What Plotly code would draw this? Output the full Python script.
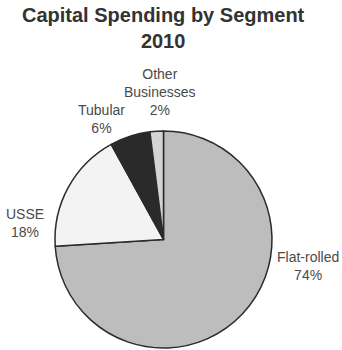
import plotly.graph_objects as go

# Capital spending share by segment, 2010
segments = ["Flat-rolled", "USSE", "Tubular", "Other<br>Businesses"]
shares = [74, 18, 6, 2]
colors = ["#bdbdbd", "#f3f3f3", "#2a2a2a", "#d4d4d4"]

W, H = 342, 350

# label anchor points in pixels (x, top y, horizontal anchor) for each segment
label_pos = {
    "Flat-rolled": (341, 247, "right"),
    "USSE": (25, 204, "center"),
    "Tubular": (101, 100, "center"),
    "Other<br>Businesses": (160, 64, "center"),
}

FONT = "Liberation Sans, Arial, sans-serif"

fig = go.Figure(
    go.Pie(
        labels=segments,
        values=shares,
        sort=False,
        direction="clockwise",
        rotation=0,
        marker=dict(colors=colors, line=dict(color="#2b2b2b", width=1.5)),
        textinfo="none",
        hoverinfo="label+percent",
        domain=dict(x=[53 / W, 274 / W], y=[2 / H, 219 / H]),
        showlegend=False,
    )
)

for seg, val in zip(segments, shares):
    px, py, anchor = label_pos[seg]
    fig.add_annotation(
        x=px / W, y=1 - py / H, xref="paper", yref="paper",
        text=f"{seg}<br>{val}%",
        showarrow=False,
        xanchor=anchor, yanchor="top",
        align="center",
        font=dict(family=FONT, size=14, color="#4a4a4a"),
    )

# chart title
fig.add_annotation(
    x=163 / W, y=1 - 2 / H, xref="paper", yref="paper",
    text="<b>Capital Spending by Segment<br>2010</b>",
    showarrow=False,
    xanchor="center", yanchor="top",
    align="center",
    font=dict(family=FONT, size=20, color="#333333"),
)

fig.update_layout(
    width=W, height=H,
    margin=dict(l=0, r=0, t=0, b=0),
    paper_bgcolor="white",
    plot_bgcolor="white",
)

fig.write_html("out.html")
